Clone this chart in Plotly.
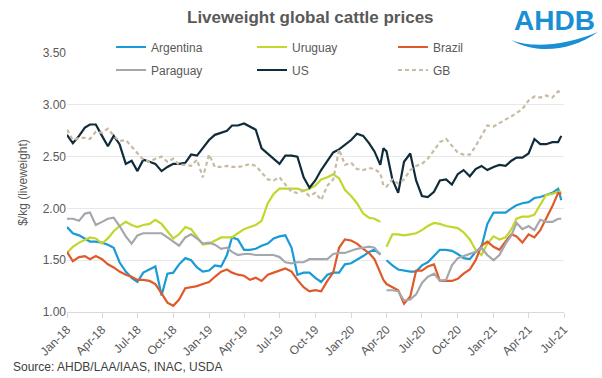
import plotly.graph_objects as go

dates = [
    "2018-01-01","2018-01-16","2018-02-01","2018-02-16","2018-03-01","2018-03-16","2018-04-01","2018-04-16",
    "2018-05-01","2018-05-16","2018-06-01","2018-06-16","2018-07-01","2018-07-16","2018-08-01","2018-08-16",
    "2018-09-01","2018-09-16","2018-10-01","2018-10-16","2018-11-01","2018-11-16","2018-12-01","2018-12-16",
    "2019-01-01","2019-01-16","2019-02-01","2019-02-16","2019-03-01","2019-03-16","2019-04-01","2019-04-16",
    "2019-05-01","2019-05-16","2019-06-01","2019-06-16","2019-07-01","2019-07-16","2019-08-01","2019-08-16",
    "2019-09-01","2019-09-16","2019-10-01","2019-10-16","2019-11-01","2019-11-16","2019-12-01","2019-12-16",
    "2020-01-01","2020-01-16","2020-02-01","2020-02-16","2020-03-01","2020-03-16","2020-03-24","2020-04-01",
    "2020-04-16","2020-05-01","2020-05-16","2020-06-01","2020-06-16","2020-07-01","2020-07-16","2020-08-01",
    "2020-08-16","2020-09-01","2020-09-16","2020-10-01","2020-10-16","2020-11-01","2020-11-16","2020-12-01",
    "2020-12-16","2021-01-01","2021-01-16","2021-02-01","2021-02-16","2021-03-01","2021-03-16","2021-04-01",
    "2021-04-16","2021-05-01","2021-05-16","2021-06-01","2021-06-16","2021-06-24",
]

argentina = [
    1.82,1.76,1.74,1.71,1.68,1.68,1.67,1.65,1.62,1.48,1.39,1.33,1.29,1.38,1.41,1.44,1.16,1.37,1.38,1.46,1.52,1.50,1.43,1.39,
    1.40,1.45,1.44,1.55,1.72,1.70,1.60,1.60,1.61,1.64,1.66,1.71,1.73,1.74,1.62,1.36,1.38,1.38,1.33,1.29,1.36,1.38,1.38,1.46,
    1.47,1.50,1.54,1.58,1.60,1.56,None,1.50,1.45,1.41,1.40,1.39,1.39,1.45,1.48,1.54,1.60,1.60,1.59,1.56,1.52,1.51,1.58,1.63,1.85,
    1.96,1.96,1.96,2.00,2.03,2.05,2.06,2.10,2.11,2.13,2.15,2.19,2.08,
]
uruguay = [
    1.57,1.63,1.67,1.70,1.72,1.71,1.66,1.71,1.78,1.83,1.87,1.84,1.82,1.84,1.85,1.89,1.85,1.78,1.71,1.75,1.82,1.80,1.72,1.65,
    1.66,1.69,1.72,1.72,1.72,1.76,1.80,1.82,1.84,1.88,2.05,2.14,2.19,2.19,2.19,2.19,2.17,2.19,2.22,2.28,2.30,2.33,2.29,2.18,
    2.12,2.05,1.95,1.91,1.90,1.87,None,1.63,1.75,1.75,1.74,1.75,1.76,1.79,1.83,1.86,1.85,1.83,1.82,1.81,1.77,1.70,1.60,1.55,1.66,
    1.73,1.70,1.72,1.80,1.90,1.92,1.92,1.94,2.04,2.13,2.14,2.16,2.16,
]
brazil = [
    1.58,1.49,1.53,1.54,1.51,1.54,1.51,1.46,1.43,1.39,1.36,1.34,1.31,1.31,1.30,1.27,1.18,1.09,1.06,1.12,1.23,1.24,1.25,1.27,
    1.29,1.34,1.39,1.41,1.38,1.36,1.35,1.31,1.33,1.30,1.36,1.38,1.40,1.42,1.39,1.31,1.24,1.20,1.21,1.20,1.30,1.38,1.62,1.70,
    1.69,1.66,1.61,1.57,1.51,1.38,1.31,1.27,1.24,1.21,1.08,1.15,1.40,1.40,1.44,1.46,1.30,1.30,1.30,1.32,1.37,1.41,1.50,1.64,1.68,
    1.63,1.60,1.68,1.75,1.73,1.67,1.75,1.72,1.79,1.90,2.02,2.15,2.14,
]
paraguay = [
    1.90,1.90,1.88,1.95,1.96,1.84,1.87,1.90,1.91,1.83,1.73,1.66,1.74,1.76,1.76,1.76,1.76,1.72,1.68,1.64,1.72,1.75,1.71,1.66,
    1.67,1.65,1.61,1.62,1.58,1.55,1.56,1.56,1.55,1.55,1.55,1.55,1.53,1.48,1.47,1.48,1.48,1.51,1.51,1.51,1.51,1.56,1.57,1.57,
    1.59,1.61,1.62,1.63,1.62,1.55,None,1.21,1.21,1.20,1.11,1.12,1.17,1.28,1.34,1.37,1.30,1.31,1.45,1.52,1.54,1.56,1.58,1.62,1.55,
    1.50,1.55,1.66,1.74,1.86,1.80,1.83,1.79,1.89,1.87,1.87,1.90,1.90,
]
us = [
    2.71,2.63,2.70,2.78,2.81,2.81,2.70,2.60,2.70,2.62,2.43,2.46,2.36,2.47,2.45,2.43,2.36,2.40,2.43,2.43,2.44,2.52,2.51,2.58,
    2.66,2.71,2.73,2.75,2.80,2.80,2.82,2.79,2.76,2.58,2.53,2.48,2.43,2.51,2.51,2.50,2.30,2.20,2.27,2.37,2.46,2.54,2.57,2.61,
    2.66,2.72,2.70,2.63,2.55,2.42,2.58,2.55,2.28,2.15,2.45,2.53,2.27,2.12,2.11,2.16,2.27,2.28,2.23,2.33,2.37,2.31,2.38,2.41,2.37,
    2.40,2.42,2.41,2.46,2.49,2.49,2.53,2.67,2.62,2.62,2.64,2.64,2.70,
]
gb = [
    2.76,2.66,2.68,2.68,2.67,2.74,2.73,2.77,2.70,2.65,2.66,2.60,2.53,2.47,2.45,2.48,2.50,2.45,2.48,2.42,2.42,2.41,2.47,2.30,
    2.52,2.40,2.40,2.41,2.40,2.40,2.41,2.43,2.41,2.35,2.28,2.27,2.30,2.23,2.16,2.15,2.17,2.12,2.15,2.08,2.22,2.28,2.57,2.42,
    2.44,2.38,2.37,2.39,2.38,2.34,2.22,2.21,2.28,2.24,2.28,2.37,2.41,2.43,2.48,2.56,2.64,2.67,2.61,2.54,2.52,2.52,2.60,2.70,2.80,
    2.79,2.82,2.86,2.89,2.92,2.96,3.04,3.08,3.07,3.09,3.07,3.13,3.12,
]

tick_dates = ["2018-01-01","2018-04-01","2018-07-01","2018-10-01","2019-01-01","2019-04-01","2019-07-01",
              "2019-10-01","2020-01-01","2020-04-01","2020-07-01","2020-10-01","2021-01-01","2021-04-01","2021-07-01"]
tick_labels = ["Jan-18","Apr-18","Jul-18","Oct-18","Jan-19","Apr-19","Jul-19",
               "Oct-19","Jan-20","Apr-20","Jul-20","Oct-20","Jan-21","Apr-21","Jul-21"]

series = [
    ("Argentina", argentina, "#1A9AD6", "solid", "legend"),
    ("Uruguay", uruguay, "#C3D62B", "solid", "legend"),
    ("Brazil", brazil, "#E0592A", "solid", "legend"),
    ("Paraguay", paraguay, "#A4A8AC", "solid", "legend2"),
    ("US", us, "#0F2C3B", "solid", "legend2"),
    ("GB", gb, "#C7BBA2", "4px,3px", "legend2"),
]

W, H = 602, 378
L, R, T, B = 67, 38, 53, 66
PW, PH = W - L - R, H - T - B

def px(x):
    return (x - L) / PW

def py(y):
    return (H - B - y) / PH

FONT = "Liberation Sans, Arial, sans-serif"

fig = go.Figure()
for name, vals, col, dash, lg in series:
    fig.add_trace(go.Scatter(
        x=dates, y=vals, name=name, mode="lines",
        line=dict(color=col, width=2.2, dash=dash),
        connectgaps=False, legend=lg,
    ))

leg_common = dict(orientation="h", xanchor="left", yanchor="middle",
                  entrywidth=96, entrywidthmode="pixels", bgcolor="rgba(0,0,0,0)",
                  font=dict(size=12, color="#595959"), itemclick=False, itemdoubleclick=False)

fig.update_layout(
    width=W, height=H,
    margin=dict(l=L, r=R, t=T, b=B, autoexpand=False),
    paper_bgcolor="white", plot_bgcolor="white",
    font=dict(family=FONT, size=12, color="#595959"),
    showlegend=True,
    legend=dict(x=px(111), y=py(47), **leg_common),
    legend2=dict(x=px(111), y=py(70), **leg_common),
    xaxis=dict(
        type="date", range=["2018-01-01", "2021-07-01"],
        tickmode="array", tickvals=tick_dates, ticktext=tick_labels,
        tickangle=-45, ticks="outside", ticklen=5, tickcolor="#D9D9D9",
        showline=True, linecolor="#D9D9D9", linewidth=1,
        showgrid=False, zeroline=False, automargin=False,
        tickfont=dict(size=12, color="#595959"),
    ),
    yaxis=dict(
        range=[1.0, 3.5], dtick=0.5, tick0=1.0, tickformat=".2f",
        showgrid=True, gridcolor="#E8E8E8", gridwidth=1,
        zeroline=False, showline=False, ticks="", automargin=False,
        tickfont=dict(size=12, color="#595959"),
        title=dict(text="$/kg (liveweight)", font=dict(size=12, color="#595959"), standoff=12),
    ),
)

fig.add_annotation(text="<b>Liveweight global cattle prices</b>", xref="paper", yref="paper",
                   x=px(310), y=py(17), xanchor="center", yanchor="middle", showarrow=False,
                   font=dict(size=17, color="#595959", family=FONT))
fig.add_annotation(text="Source: AHDB/LAA/IAAS, INAC, USDA", xref="paper", yref="paper",
                   x=px(11), y=py(367), xanchor="left", yanchor="middle", showarrow=False,
                   font=dict(size=12, color="#404040", family=FONT))
fig.add_annotation(text="<b>AHDB</b>", xref="paper", yref="paper",
                   x=px(554), y=py(20), xanchor="center", yanchor="middle", showarrow=False,
                   font=dict(size=28, color="#1A8FD4", family=FONT))

pts = [(511, 40), (530, 48), (565, 46), (598, 32), (570, 52), (535, 54), (511, 40)]
path = "M {:.4f},{:.4f} C {:.4f},{:.4f} {:.4f},{:.4f} {:.4f},{:.4f} C {:.4f},{:.4f} {:.4f},{:.4f} {:.4f},{:.4f} Z".format(
    *[v for p in pts for v in (px(p[0]), py(p[1]))])
fig.add_shape(type="path", path=path, xref="paper", yref="paper",
              fillcolor="#1A8FD4", line=dict(width=0))

fig.write_html("out.html", config={"displayModeBar": False},
               post_script="document.body.style.margin='0';document.body.style.padding='0';")
